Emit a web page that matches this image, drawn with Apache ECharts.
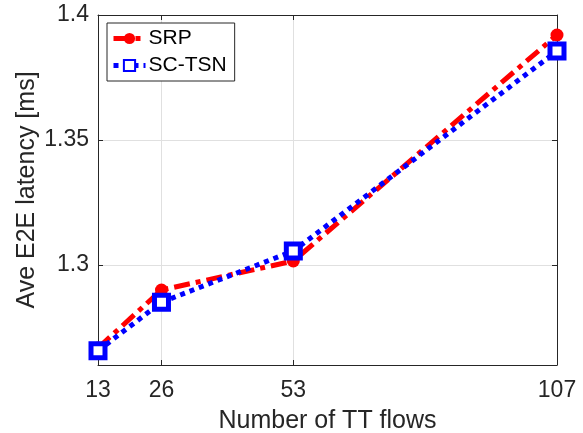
<!DOCTYPE html>
<html>
<head>
<meta charset="utf-8">
<script src="https://cdn.jsdelivr.net/npm/echarts@6/dist/echarts.min.js"></script>
<style>
  html, body { margin: 0; padding: 0; background: #fff; }
  #chart { width: 583px; height: 433px; }
</style>
</head>
<body>
<div id="chart"></div>
<script>
var flows = [13, 26, 53, 107];
var srp = [1.2668, 1.2900, 1.3016, 1.3920];
var scTsn = [1.2657, 1.2851, 1.3056, 1.3856];
var yTicks = [1.3, 1.35, 1.4];

var font = 'Liberation Sans, Arial, sans-serif';
var textColor = '#262626';

function pairs(xs, ys) {
    return xs.map(function (x, i) { return [x, ys[i]]; });
}

var chart = echarts.init(document.getElementById('chart'));
chart.setOption({
    animation: false,
    grid: { left: 98, top: 15, right: 26, bottom: 68, outerBoundsMode: 'none' },
    legend: {
        orient: 'vertical',
        left: 107,
        top: 23,
        padding: [5, 8, 5, 4],
        itemGap: 6,
        itemWidth: 32,
        itemHeight: 14,
        borderColor: '#262626',
        borderWidth: 1,
        borderRadius: 0,
        backgroundColor: '#fff',
        textStyle: { fontFamily: font, fontSize: 21, color: '#000', padding: [0, 0, 0, -2] },
        data: [
            { name: 'SRP', lineStyle: { width: 5 } },
            { name: 'SC-TSN', lineStyle: { width: 5 } }
        ]
    },
    xAxis: [{
        type: 'value',
        min: 13,
        max: 107,
        name: 'Number of TT flows',
        nameLocation: 'middle',
        nameGap: 44,
        nameMoveOverlap: false,
        nameTextStyle: { fontFamily: font, fontSize: 25, color: textColor },
        axisLine: { lineStyle: { color: textColor, width: 1 } },
        axisTick: { inside: true, length: 5, customValues: flows, lineStyle: { color: textColor } },
        axisLabel: { customValues: flows, fontFamily: font, fontSize: 23, color: textColor, margin: 14 },
        splitLine: { show: true, lineStyle: { color: '#e0e0e0' } }
    }, {
        type: 'value',
        position: 'top',
        min: 13,
        max: 107,
        axisLine: { lineStyle: { color: textColor, width: 1 } },
        axisTick: { inside: true, length: 5, customValues: flows, lineStyle: { color: textColor } },
        axisLabel: { show: false },
        splitLine: { show: false }
    }],
    yAxis: [{
        type: 'value',
        min: 1.26,
        max: 1.4,
        name: 'Ave E2E latency [ms]',
        nameLocation: 'middle',
        nameGap: 58,
        nameMoveOverlap: false,
        nameTextStyle: { fontFamily: font, fontSize: 25, color: textColor },
        axisLine: { show: true, lineStyle: { color: textColor, width: 1 } },
        axisTick: { inside: true, length: 5, customValues: yTicks, lineStyle: { color: textColor } },
        axisLabel: { customValues: yTicks, fontFamily: font, fontSize: 23, color: textColor, margin: 9 },
        splitLine: { show: true, lineStyle: { color: '#e0e0e0' } }
    }, {
        type: 'value',
        position: 'right',
        min: 1.26,
        max: 1.4,
        axisLine: { show: true, lineStyle: { color: textColor, width: 1 } },
        axisTick: { inside: true, length: 5, customValues: yTicks, lineStyle: { color: textColor } },
        axisLabel: { show: false },
        splitLine: { show: false }
    }],
    series: [{
        name: 'SRP',
        type: 'line',
        data: pairs(flows, srp),
        symbol: 'circle',
        symbolSize: 13,
        color: '#ff0000',
        itemStyle: { color: '#ff0000' },
        lineStyle: { color: '#ff0000', width: 5, type: [16, 6, 5, 6] },
        z: 3
    }, {
        name: 'SC-TSN',
        type: 'line',
        data: pairs(flows, scTsn),
        symbol: 'rect',
        symbolSize: 14,
        color: '#0000ff',
        itemStyle: { color: '#fff', borderColor: '#0000ff', borderWidth: 5 },
        lineStyle: { color: '#0000ff', width: 5, type: [5, 5] },
        z: 4
    }]
});
</script>
</body>
</html>
